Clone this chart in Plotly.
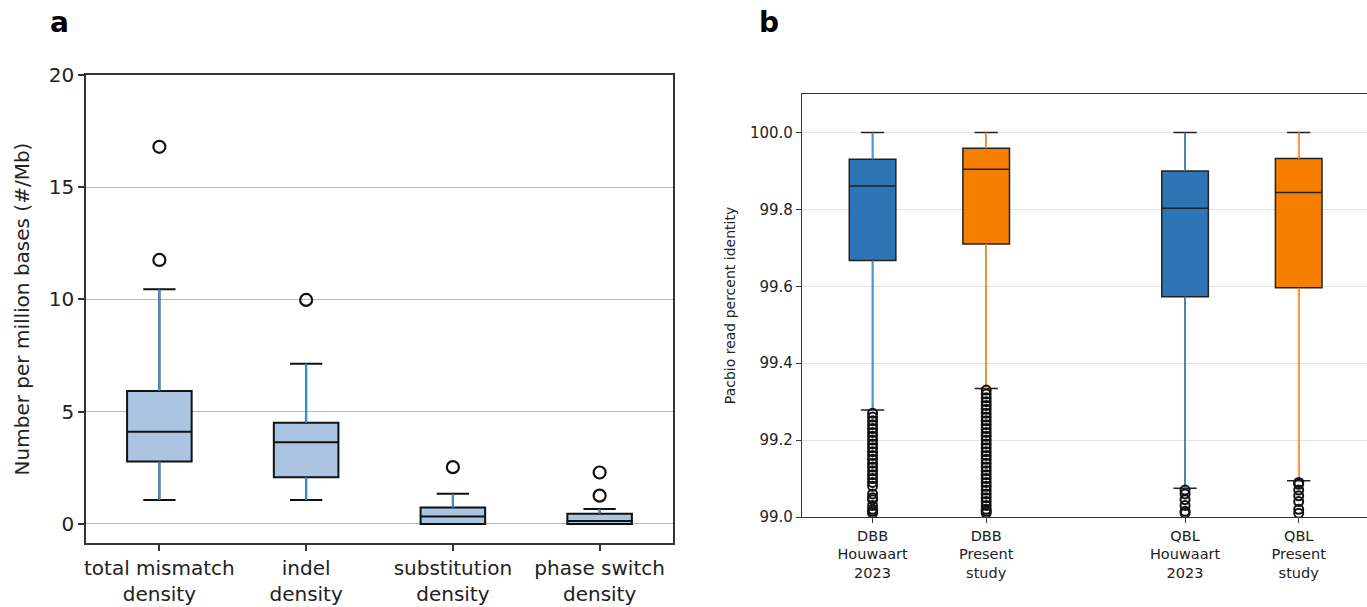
import plotly.graph_objects as go

W, H = 1367, 607

# ---------------- Panel a data ----------------
cats_a = ["total mismatch<br>density", "indel<br>density",
          "substitution<br>density", "phase switch<br>density"]
lf_a = [1.07, 1.07, 0.0, 0.0]
q1_a = [2.78, 2.08, 0.0, 0.0]
med_a = [4.11, 3.64, 0.33, 0.13]
q3_a = [5.92, 4.51, 0.73, 0.45]
uf_a = [10.45, 7.14, 1.34, 0.67]
out_a = [[11.76, 16.8], [9.98], [2.53], [1.26, 2.29]]

# ---------------- Panel b data ----------------
cats_b = ["DBB<br>Houwaart<br>2023", "DBB<br>Present<br>study",
          "QBL<br>Houwaart<br>2023", "QBL<br>Present<br>study"]
lf_b = [99.278, 99.334, 99.075, 99.094]
q1_b = [99.667, 99.710, 99.573, 99.596]
med_b = [99.861, 99.904, 99.803, 99.844]
q3_b = [99.930, 99.959, 99.900, 99.932]
uf_b = [100.0, 100.0, 100.0, 100.0]
out_b = [
    [99.010, 99.015, 99.020, 99.030, 99.045, 99.050, 99.060, 99.080, 99.090,
     99.100, 99.110, 99.120, 99.130, 99.140, 99.150, 99.160, 99.170, 99.180,
     99.190, 99.200, 99.210, 99.220, 99.230, 99.240, 99.250, 99.260, 99.270],
    [99.010, 99.015, 99.020, 99.030, 99.040, 99.050, 99.060, 99.070, 99.080,
     99.090, 99.100, 99.110, 99.120, 99.130, 99.140, 99.150, 99.160, 99.170,
     99.180, 99.190, 99.200, 99.210, 99.220, 99.230, 99.240, 99.250, 99.260,
     99.270, 99.280, 99.290, 99.300, 99.310, 99.320, 99.330],
    [99.010, 99.015, 99.030, 99.045, 99.060, 99.070],
    [99.010, 99.020, 99.040, 99.055, 99.070, 99.085, 99.090],
]
pos_b = [1, 2, 3.75, 4.75]
fill_b = ["#2e75b6", "#f77f00", "#2e75b6", "#f77f00"]
whisk_b = ["#4a92d4", "#ffa04a", "#4a92d4", "#ffa04a"]

FONT = "DejaVu Sans"
fig = go.Figure()

# ---- panel a boxes ----
for i, c in enumerate(cats_a):
    fig.add_trace(go.Box(
        x=[c], q1=[q1_a[i]], median=[med_a[i]], q3=[q3_a[i]],
        lowerfence=[lf_a[i]], upperfence=[uf_a[i]],
        width=0.44, whiskerwidth=0.5, boxpoints=False,
        fillcolor="#aac4e2", line=dict(color="#111111", width=2),
        xaxis="x", yaxis="y", showlegend=False, hoverinfo="skip"))
    fig.add_trace(go.Scatter(
        x=[c, c, None, c, c], y=[q3_a[i], uf_a[i], None, q1_a[i], lf_a[i]],
        mode="lines", line=dict(color="#4090d4", width=2),
        xaxis="x", yaxis="y", showlegend=False, hoverinfo="skip"))
    fig.add_trace(go.Scatter(
        x=[c] * len(out_a[i]), y=out_a[i], mode="markers",
        marker=dict(symbol="circle-open", size=12, color="#111111",
                    line=dict(width=2.2, color="#111111")),
        xaxis="x", yaxis="y", showlegend=False, hoverinfo="skip"))

# ---- panel b boxes ----
for i, c in enumerate(cats_b):
    p = pos_b[i]
    fig.add_trace(go.Box(
        x=[p], q1=[q1_b[i]], median=[med_b[i]], q3=[q3_b[i]],
        lowerfence=[lf_b[i]], upperfence=[uf_b[i]],
        width=0.41, whiskerwidth=0.5, boxpoints=False,
        fillcolor=fill_b[i], line=dict(color="#222222", width=1.5),
        xaxis="x2", yaxis="y2", showlegend=False, hoverinfo="skip"))
    fig.add_trace(go.Scatter(
        x=[p, p, None, p, p], y=[q3_b[i], uf_b[i], None, q1_b[i], lf_b[i]],
        mode="lines", line=dict(color=whisk_b[i], width=1.5),
        xaxis="x2", yaxis="y2", showlegend=False, hoverinfo="skip"))
    fig.add_trace(go.Scatter(
        x=[p] * len(out_b[i]), y=out_b[i], mode="markers",
        marker=dict(symbol="circle-open", size=9, color="#111111",
                    line=dict(width=2, color="#111111")),
        xaxis="x2", yaxis="y2", showlegend=False, hoverinfo="skip"))

axis_line = "#333333"
fig.update_layout(
    width=W, height=H,
    margin=dict(l=0, r=0, t=0, b=0, autoexpand=False),
    paper_bgcolor="white", plot_bgcolor="white",
    boxmode="overlay",
    font=dict(family=FONT, color="#222222"),
    xaxis=dict(domain=[86 / W, 673 / W], type="category", anchor="y",
               categoryorder="array", categoryarray=cats_a,
               range=[-0.5, 3.5], automargin=False,
               showline=True, mirror=True, linecolor=axis_line, linewidth=1.5,
               ticks="outside", ticklen=6, tickcolor=axis_line, tickwidth=1.5,
               showgrid=False, zeroline=False,
               tickfont=dict(family=FONT, size=20, color="#222222")),
    yaxis=dict(domain=[64 / H, 532 / H], range=[-0.85, 20], anchor="x",
               tickvals=[0, 5, 10, 15, 20], automargin=False,
               showline=True, mirror=True, linecolor=axis_line, linewidth=1.5,
               ticks="outside", ticklen=6, tickcolor=axis_line, tickwidth=1.5,
               showgrid=True, gridcolor="#b8b8b8", gridwidth=1.3,
               zeroline=False,
               tickfont=dict(family=FONT, size=20, color="#222222"),
               title=dict(text="Number per million bases (#/Mb)",
                          font=dict(family=FONT, size=20, color="#222222"),
                          standoff=14)),
    xaxis2=dict(domain=[802 / W, 1.0], range=[0.379, 5.351], anchor="y2",
                tickvals=pos_b, ticktext=cats_b, automargin=False,
                showline=True, mirror=True, linecolor=axis_line, linewidth=1.3,
                ticks="outside", ticklen=5, tickcolor=axis_line, tickwidth=1.3,
                showgrid=False, zeroline=False,
                tickfont=dict(family=FONT, size=14.5, color="#222222")),
    yaxis2=dict(domain=[90 / H, 513 / H], range=[99.0, 100.1],
                anchor="x2", automargin=False,
                tickvals=[99.0, 99.2, 99.4, 99.6, 99.8, 100.0],
                ticktext=["99.0", "99.2", "99.4", "99.6", "99.8", "100.0"],
                showline=True, mirror=False, linecolor=axis_line, linewidth=1.3,
                ticks="outside", ticklen=5, tickcolor=axis_line, tickwidth=1.3,
                showgrid=True, gridcolor="#e3e3e3", gridwidth=1.3,
                zeroline=False,
                tickfont=dict(family=FONT, size=15, color="#222222"),
                title=dict(text="Pacbio read percent identity",
                           font=dict(family=FONT, size=14, color="#222222"),
                           standoff=10)),
    annotations=[
        dict(text="<b>a</b>", x=59 / W, y=1 - 22 / H, xref="paper", yref="paper",
             xanchor="center", yanchor="middle",
             showarrow=False, font=dict(family=FONT, size=28, color="black")),
        dict(text="<b>b</b>", x=769 / W, y=1 - 22 / H, xref="paper", yref="paper",
             xanchor="center", yanchor="middle",
             showarrow=False, font=dict(family=FONT, size=28, color="black")),
    ],
)

fig.write_html("out.html")
